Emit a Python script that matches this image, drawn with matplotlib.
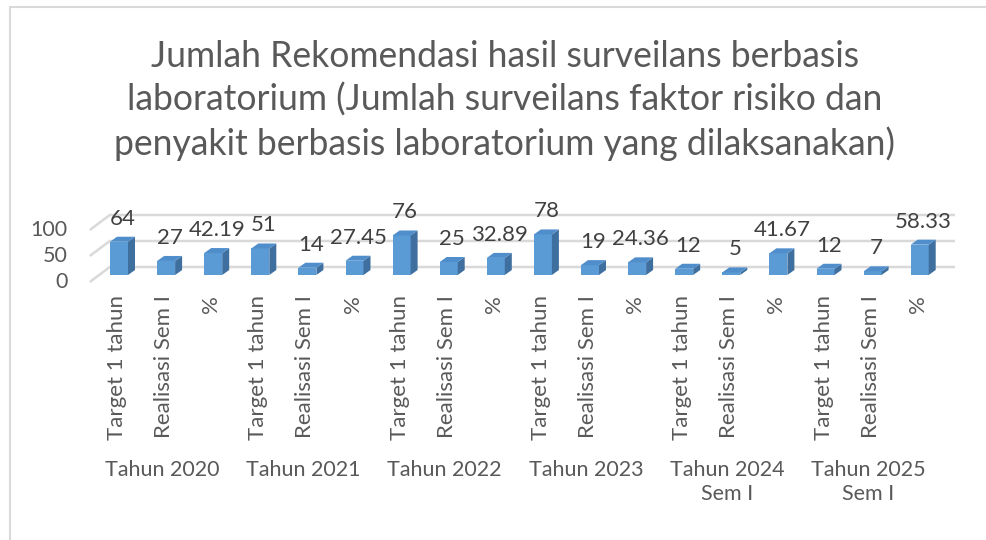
import matplotlib.pyplot as plt
from matplotlib.patches import Polygon, Rectangle

# data
categories = ['Target 1 tahun', 'Realisasi Sem I', '%'] * 6
groups = ['Tahun 2020', 'Tahun 2021', 'Tahun 2022', 'Tahun 2023',
          'Tahun 2024\nSem I', 'Tahun 2025\nSem I']
values = [64, 27, 42.19, 51, 14, 27.45, 76, 25, 32.89,
          78, 19, 24.36, 12, 5, 41.67, 12, 7, 58.33]
y_ticks = [0, 50, 100]
title = ('Jumlah Rekomendasi hasil surveilans berbasis\n'
         'laboratorium (Jumlah surveilans faktor risiko dan\n'
         'penyakit berbasis laboratorium yang dilaksanakan)')

plt.rcParams['font.family'] = ['Lato', 'DejaVu Sans']
TXT = '#595959'
FRONT, SIDE, TOP = '#5b9bd5', '#3e6f9f', '#4f8ecb'
GRID = '#d9d9d9'

W, H = 987, 540
step = 47.1         # px per category
ppu = 0.52          # px per value unit
x_lo, x_hi = -0.62, 17.55
base_px = 275       # pixel row of bar bottoms

fig = plt.figure(figsize=(W / 100, H / 100), dpi=100)
ax = fig.add_axes([(119 + x_lo * step) / W, (H - base_px) / H,
                   (x_hi - x_lo) * step / W, 100 * ppu / H])
ax.set_xlim(x_lo, x_hi)
ax.set_ylim(0, 100)
ax.axis('off')

# chart border
fig.patches.append(Rectangle((10 / W, -0.1), 1.1, (H - 7) / H + 0.1,
                             transform=fig.transFigure, fill=False,
                             ec=GRID, lw=1.5))

# back wall gridlines with the 3d floor diagonal on the left
gx0, gx1 = x_lo, x_lo + 20 / step
gy0, gy1 = -7 / ppu, 8 / ppu
gx_end = (955 - 119) / step
for t in y_ticks:
    ax.plot([gx0, gx1, gx_end], [t + gy0, t + gy1, t + gy1], color=GRID,
            lw=1.8, clip_on=False, zorder=1, solid_capstyle='butt')
    ax.annotate(str(t), (gx0, t + gy0), xytext=(-22, 0),
                textcoords='offset pixels', ha='right', va='center',
                fontsize=15.5, color=TXT, annotation_clip=False)

# 3d-ish columns
w = 18 / step
bdx, bdy = 7 / step, 5 / ppu
xs = list(range(len(values)))
ax.bar(xs, values, width=w, color=FRONT, zorder=3, clip_on=False)
for x, v in zip(xs, values):
    r = x + w / 2
    ax.add_patch(Polygon([(r, 0), (r + bdx, bdy), (r + bdx, v + bdy), (r, v)],
                         closed=True, fc=SIDE, ec='none', zorder=3, clip_on=False))
    ax.add_patch(Polygon([(x - w / 2, v), (r, v), (r + bdx, v + bdy),
                          (x - w / 2 + bdx, v + bdy)],
                         closed=True, fc=TOP, ec='none', zorder=3, clip_on=False))
    ax.annotate(f'{v:g}', (x + bdx / 2, v + bdy), xytext=(0, 18),
                textcoords='offset pixels', ha='center', va='center',
                fontsize=16, color='#404040', annotation_clip=False)

for x, c in zip(xs, categories):
    ax.annotate(c, (x, 0), xytext=(-2, -20), textcoords='offset pixels',
                rotation=90, ha='center', va='top', fontsize=16, color=TXT,
                annotation_clip=False)

for i, g in enumerate(groups):
    ax.annotate(g, (3 * i + 1, 0), xytext=(-4, -185), textcoords='offset pixels',
                ha='center', va='top', fontsize=15.5, color=TXT,
                multialignment='center', linespacing=1.25,
                annotation_clip=False)

fig.text(505 / W, 1 - 40 / H, title, ha='center', va='top', fontsize=25.6,
         color=TXT, linespacing=1.34)

fig.savefig('out.png', dpi=100)
